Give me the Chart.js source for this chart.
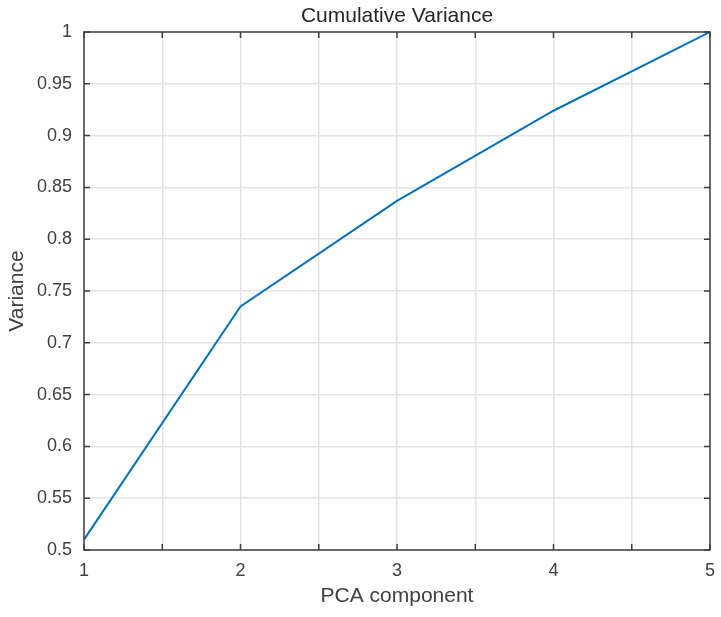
<!DOCTYPE html>
<html>
<head>
<meta charset="utf-8">
<script src="https://cdn.jsdelivr.net/npm/chart.js@4/dist/chart.umd.min.js"></script>
<style>
  html, body { margin: 0; padding: 0; background: #fff; }
  #wrap { width: 721px; height: 617px; }
</style>
</head>
<body>
<div id="wrap"><canvas id="myChart" width="721" height="617"></canvas></div>
<script>
'use strict';

// values
var components = [1, 2, 3, 4, 5];
var variance = [0.51, 0.735, 0.837, 0.924, 1.0];

var axisColor = '#404040';
var textColor = '#404040';
var gridColor = '#e3e3e3';
var lineColor = '#0072BD';
var fontFamily = '"Liberation Sans", Arial, sans-serif';

// draw box round the plot and inner tick marks (matlab style)
var boxPlugin = {
  id: 'box',
  afterDatasetsDraw: function (chart) {
    var ctx = chart.ctx;
    var a = chart.chartArea;
    var xs = chart.scales.x;
    var ys = chart.scales.y;
    var len = 6;
    ctx.save();
    ctx.strokeStyle = axisColor;
    ctx.lineWidth = 1.5;
    ctx.beginPath();
    xs.ticks.forEach(function (t) {
      var px = xs.getPixelForValue(t.value);
      ctx.moveTo(px, a.bottom);
      ctx.lineTo(px, a.bottom - len);
      ctx.moveTo(px, a.top);
      ctx.lineTo(px, a.top + len);
    });
    ys.ticks.forEach(function (t) {
      var py = ys.getPixelForValue(t.value);
      ctx.moveTo(a.left, py);
      ctx.lineTo(a.left + len, py);
      ctx.moveTo(a.right, py);
      ctx.lineTo(a.right - len, py);
    });
    ctx.stroke();
    ctx.strokeRect(a.left, a.top, a.right - a.left, a.bottom - a.top);
    ctx.restore();
  }
};

var points = [];
for (var i = 0; i < components.length; i++) {
  points.push({ x: components[i], y: variance[i] });
}

var ctx = document.getElementById('myChart').getContext('2d');

var myChart = new Chart(ctx, {
  type: 'line',
  data: {
    datasets: [{
      data: points,
      borderColor: lineColor,
      borderWidth: 2,
      pointRadius: 0,
      fill: false,
      tension: 0
    }]
  },
  options: {
    responsive: false,
    animation: false,
    devicePixelRatio: 1,
    layout: { padding: { left: 0, right: 11, top: 0, bottom: 0 } },
    plugins: {
      legend: { display: false },
      tooltip: { enabled: false }
    },
    scales: {
      x: {
        type: 'linear',
        min: 1,
        max: 5,
        border: { display: false },
        grid: { color: gridColor, lineWidth: 1.5, drawTicks: false },
        ticks: {
          stepSize: 0.5,
          color: textColor,
          padding: 10,
          maxRotation: 0,
          font: { family: fontFamily, size: 18 },
          callback: function (v) { return Number.isInteger(v) ? String(v) : ''; }
        },
        title: {
          display: true,
          text: 'PCA component',
          color: textColor,
          font: { family: fontFamily, size: 21 },
          padding: { top: 0, bottom: 8 }
        },
        afterFit: function (scale) {
          scale.height = 67;
          scale.paddingLeft = 0;
          scale.paddingRight = 0;
        }
      },
      // top axis only carries the chart title, centred over the plot
      x2: {
        type: 'linear',
        position: 'top',
        min: 1,
        max: 5,
        border: { display: false },
        grid: { display: false, drawTicks: false },
        ticks: { display: false },
        title: {
          display: true,
          text: 'Cumulative Variance',
          color: '#262626',
          font: { family: fontFamily, size: 21 },
          padding: { top: 3.4, bottom: 0 }
        },
        afterFit: function (scale) {
          scale.height = 32;
          scale.paddingLeft = 0;
          scale.paddingRight = 0;
        }
      },
      y: {
        min: 0.5,
        max: 1,
        border: { display: false },
        grid: { color: gridColor, lineWidth: 1.5, drawTicks: false },
        ticks: {
          stepSize: 0.05,
          color: textColor,
          padding: 12,
          font: { family: fontFamily, size: 18 },
          callback: function (v) { return String(Number(v.toFixed(2))); }
        },
        title: {
          display: true,
          text: 'Variance',
          color: textColor,
          font: { family: fontFamily, size: 21 },
          padding: { top: 4.4, bottom: 0 }
        },
        afterFit: function (scale) {
          scale.width = 84;
          scale.paddingTop = 0;
          scale.paddingBottom = 0;
        }
      }
    }
  },
  plugins: [boxPlugin]
});
</script>
</body>
</html>
